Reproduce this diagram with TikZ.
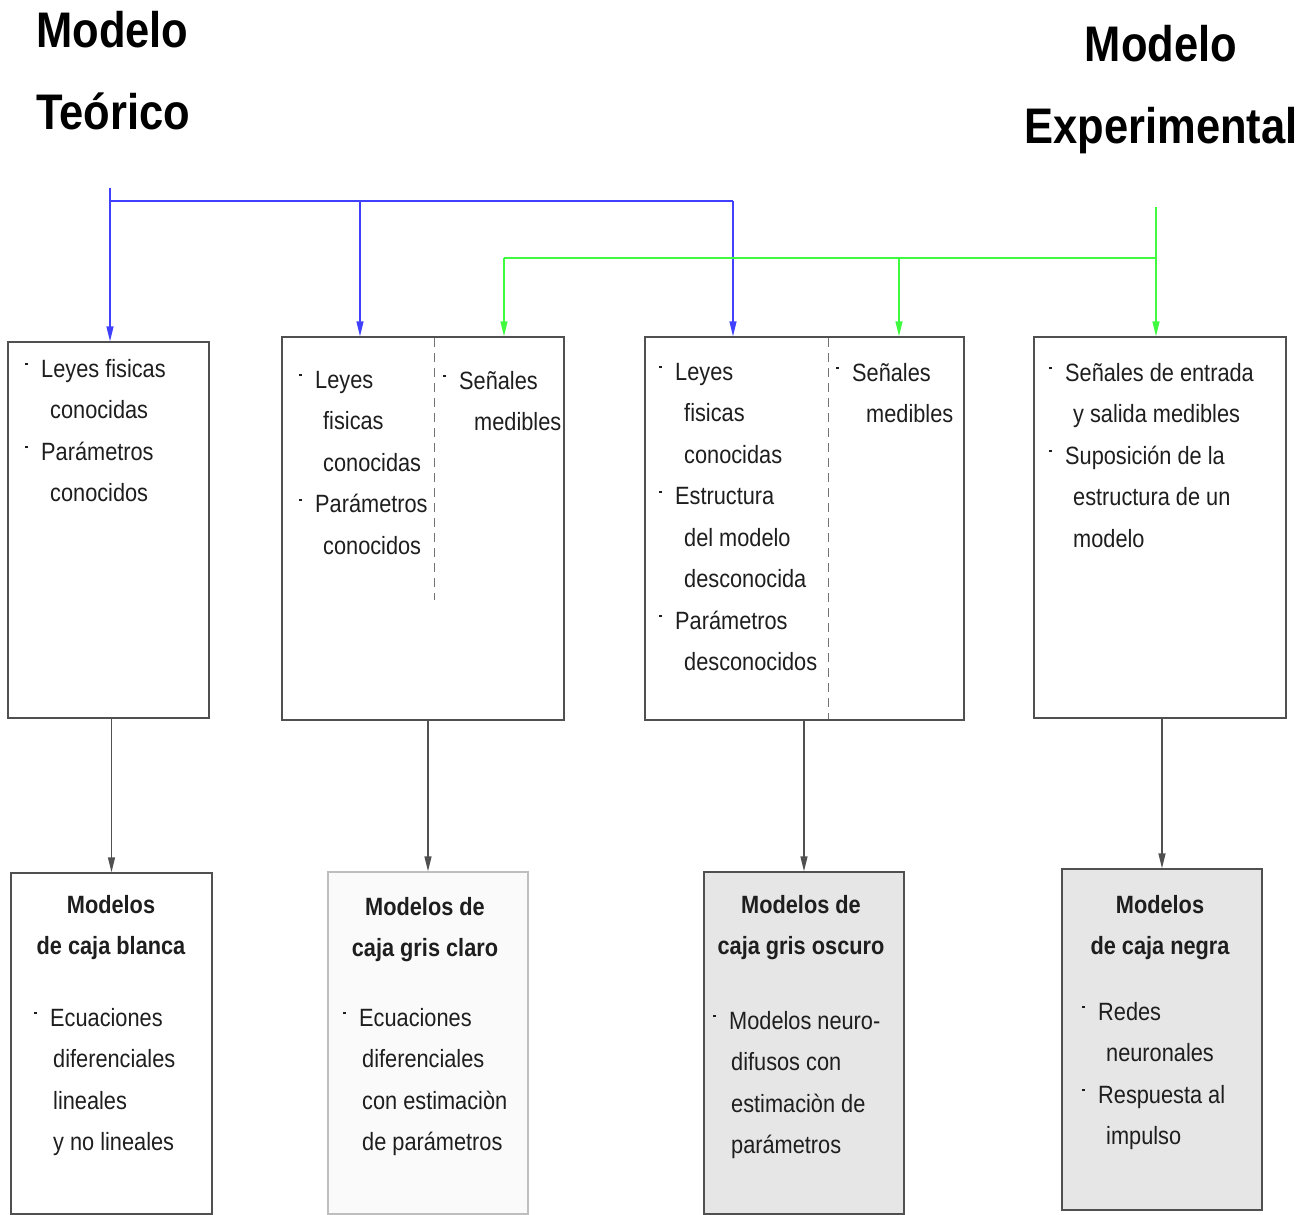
\documentclass[tikz,border=0pt]{standalone}
\usepackage{fontspec}
\setmainfont[FakeStretch=0.87]{Liberation Sans}
\usetikzlibrary{arrows.meta, positioning}

\definecolor{teoblue}{RGB}{64,64,255}
\definecolor{expgreen}{RGB}{64,250,64}
\definecolor{boxline}{RGB}{80,80,80}
\definecolor{lightline}{RGB}{190,190,190}
\definecolor{lightfill}{RGB}{250,250,250}
\definecolor{darkfill}{RGB}{230,230,230}
\definecolor{txt}{RGB}{30,30,30}

\newcommand{\itm}{\makebox[16pt][l]{\raisebox{12pt}{\rule{2.4pt}{2.4pt}}}}
\newcommand{\cnt}[1]{\hspace*{#1pt}}

\begin{document}
\begin{tikzpicture}[
    x=1pt, y=-1pt,
    topbox/.style={rectangle, draw=boxline, line width=1.4pt, inner sep=0pt},
    cajabox/.style={rectangle, draw=boxline, line width=1.4pt, inner sep=0pt},
    bodytext/.style={anchor=north west, yshift=18pt, align=left, inner sep=0pt, text=txt,
        font={\fontsize{25}{41.5}\selectfont}, execute at begin node={\rule{0pt}{22pt}}},
    headtext/.style={anchor=north, yshift=18pt, align=center, inner sep=0pt, text=txt,
        font={\fontsize{25}{41}\selectfont\bfseries}, execute at begin node={\rule{0pt}{22pt}}},
    titletext/.style={yshift=41pt, inner sep=0pt, text=black,
        font={\fontsize{50}{82}\selectfont\bfseries}, execute at begin node={\rule{0pt}{45pt}}},
    teoarrow/.style={draw=teoblue, line width=1.5pt, -{Triangle[length=15pt, width=7pt]}},
    exparrow/.style={draw=expgreen, line width=1.5pt, -{Triangle[length=15pt, width=7pt]}},
    cajarrow/.style={draw=boxline, line width=1.4pt, -{Triangle[length=15pt, width=7pt]}},
    divider/.style={draw=boxline!80, line width=1pt, dash pattern=on 9pt off 6pt}
]
\useasboundingbox (0,0) rectangle (1309,1215);

% titulos
\node[titletext, anchor=north west, align=left] (teorico) at (36,52) {Modelo\\Teórico};
\node[titletext, anchor=north, align=center] (experimental) at (1161,66) {Modelo\\Experimental};

% cajas superiores
\node[topbox, minimum width=201pt, minimum height=376pt] (wb) at (108.5,530) {};
\node[topbox, minimum width=282pt, minimum height=383pt] (gcl) at (423,528.5) {};
\node[topbox, minimum width=319pt, minimum height=383pt] (gco) at (804.5,528.5) {};
\node[topbox, minimum width=252pt, minimum height=381pt] (bk) at (1160,527.5) {};
\draw[divider] (434,338) -- (434,600);
\draw[divider] (828,338) -- (828,719);

\node[bodytext] (wbtxt) at (25,377)
    {\itm Leyes fisicas\\ \cnt{25}conocidas\\ \itm Parámetros\\ \cnt{25}conocidos};
\node[bodytext] (gcltxt) at (299,389)
    {\itm Leyes\\ \cnt{24}fisicas\\ \cnt{24}conocidas\\ \itm Parámetros\\ \cnt{24}conocidos};
\node[bodytext] (gclsen) at (443,389)
    {\itm Señales\\ \cnt{31}medibles};
\node[bodytext] (gcotxt) at (659,381)
    {\itm Leyes\\ \cnt{25}fisicas\\ \cnt{25}conocidas\\ \itm Estructura\\ \cnt{25}del modelo\\
     \cnt{25}desconocida\\ \itm Parámetros\\ \cnt{25}desconocidos};
\node[bodytext] (gcosen) at (836,381)
    {\itm Señales\\ \cnt{30}medibles};
\node[bodytext] (bktxt) at (1049,381)
    {\itm Señales de entrada\\ \cnt{24}y salida medibles\\ \itm Suposición de la\\
     \cnt{24}estructura de un\\ \cnt{24}modelo};

% cajas inferiores
\node[cajabox, minimum width=201pt, minimum height=341pt] (cwb) at (111.5,1043.5) {};
\node[cajabox, draw=lightline, fill=lightfill, minimum width=200pt, minimum height=342pt] (cgcl) at (428,1043) {};
\node[cajabox, fill=darkfill, minimum width=200pt, minimum height=342pt] (cgco) at (804,1043) {};
\node[cajabox, fill=darkfill, minimum width=200pt, minimum height=341pt] (cbk) at (1162,1039.5) {};

\node[headtext] (cwbhd) at (111,913) {Modelos\\de caja blanca};
\node[headtext] (cgclhd) at (425,915) {Modelos de\\caja gris claro};
\node[headtext] (cgcohd) at (801,913) {Modelos de\\caja gris oscuro};
\node[headtext] (cbkhd) at (1160,913) {Modelos\\de caja negra};

\node[bodytext] (cwbtxt) at (34,1026)
    {\itm Ecuaciones\\ \cnt{19}diferenciales\\ \cnt{19}lineales\\ \cnt{19}y no lineales};
\node[bodytext] (cgcltxt) at (343,1026)
    {\itm Ecuaciones\\ \cnt{19}diferenciales\\ \cnt{19}con estimaciòn\\ \cnt{19}de parámetros};
\node[bodytext] (cgcotxt) at (713,1029)
    {\itm Modelos neuro-\\ \cnt{18}difusos con\\ \cnt{18}estimaciòn de\\ \cnt{18}parámetros};
\node[bodytext] (cbktxt) at (1082,1020)
    {\itm Redes\\ \cnt{24}neuronales\\ \itm Respuesta al\\ \cnt{24}impulso};

% conexiones modelo teorico
\coordinate (teo) at (110,188);
\coordinate (tbus) at (110,201);
\coordinate (tbusB) at (360,201);
\coordinate (tbusC) at (733,201);
\draw[teoarrow] (teo) -- (teo |- wb.north);
\draw[draw=teoblue, line width=1.5pt] (tbus) -- (tbusC);
\draw[teoarrow] (tbusB) -- (tbusB |- gcl.north);
\draw[teoarrow] (tbusC) -- (tbusC |- gco.north);

% conexiones modelo experimental
\coordinate (expo) at (1156,207);
\coordinate (ebus) at (1156,258);
\coordinate (ebusB) at (504,258);
\coordinate (ebusC) at (899,258);
\draw[exparrow] (expo) -- (expo |- bk.north);
\draw[draw=expgreen, line width=1.5pt] (ebusB) -- (ebus);
\draw[exparrow] (ebusB) -- (ebusB |- gcl.north);
\draw[exparrow] (ebusC) -- (ebusC |- gco.north);

% hacia los tipos de modelo
\draw[cajarrow] (wb.south -| cwb.north) -- (cwb.north);
\draw[cajarrow] (gcl.south -| cgcl.north) -- (cgcl.north);
\draw[cajarrow] (gco.south -| cgco.north) -- (cgco.north);
\draw[cajarrow] (bk.south -| cbk.north) -- (cbk.north);
\end{tikzpicture}
\end{document}
